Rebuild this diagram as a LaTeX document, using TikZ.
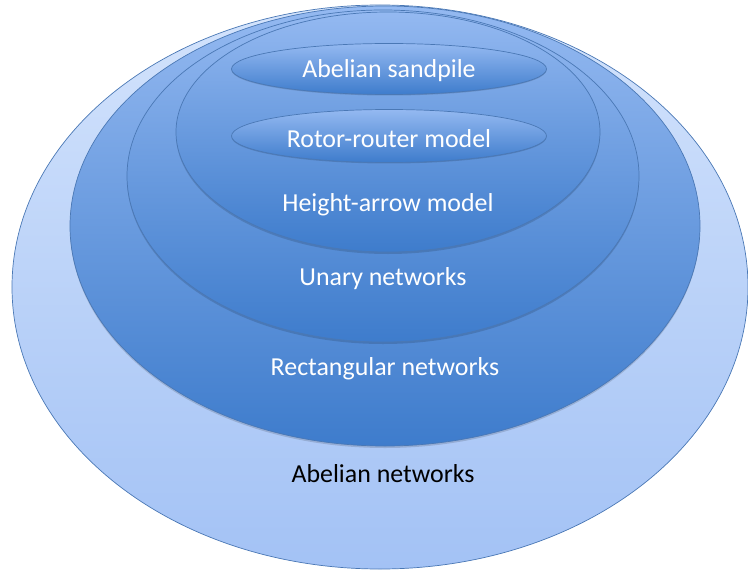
\documentclass[tikz,border=0pt]{standalone}
\usepackage{fontspec}
\setmainfont{Carlito}
\usetikzlibrary{shapes.geometric}
\definecolor{outtop}{HTML}{D3E3FC}
\definecolor{outbot}{HTML}{A3C2F5}
\definecolor{intop}{HTML}{94B9F1}
\definecolor{inbot}{HTML}{3E7CCC}
\definecolor{edge}{HTML}{4A78B5}
\tikzset{
  ring/.style={ellipse, inner sep=0pt, draw=edge, line width=0.7bp},
  outerring/.style={ring, top color=outtop, bottom color=outbot},
  innerring/.style={ring, top color=intop, bottom color=inbot},
  shade/.style={ellipse, inner sep=0pt, fill=black, fill opacity=0.14, draw=none},
  lbl/.style={font=\fontsize{26}{30}\selectfont, text=white, inner sep=0pt},
  lblblack/.style={lbl, text=black}
}
\begin{document}
\begin{tikzpicture}[x=1bp, y=-1bp]
\useasboundingbox (0,0) rectangle (748,572);
\node[outerring, minimum width=736bp, minimum height=564bp] (abnet) at (380,287) {};
\node[shade, minimum width=630bp, minimum height=440bp] (rectsh) at (385,228) {};
\node[innerring, minimum width=630bp, minimum height=440bp] (rect) at (385,226) {};
\node[shade, minimum width=512bp, minimum height=332bp] (unsh) at (383,178) {};
\node[innerring, minimum width=512bp, minimum height=332bp] (unary) at (383,176) {};
\node[shade, minimum width=424bp, minimum height=240bp] (hash) at (388,134) {};
\node[innerring, minimum width=424bp, minimum height=240bp] (height) at (388,132) {};
\node[shade, minimum width=315bp, minimum height=51bp] (sash) at (389,70) {};
\node[innerring, minimum width=315bp, minimum height=51bp] (sand) at (389,69) {};
\node[shade, minimum width=315bp, minimum height=53bp] (rosh) at (389,137) {};
\node[innerring, minimum width=315bp, minimum height=53bp] (rotor) at (389,136) {};
\node[lbl] (tsand) at (389,71) {Abelian sandpile};
\node[lbl] (trotor) at (389,139) {Rotor-router model};
\node[lbl] (theight) at (388,205) {Height-arrow model};
\node[lbl] (tunary) at (383,279) {Unary networks};
\node[lbl] (trect) at (385,369) {Rectangular networks};
\node[lblblack] (tabnet) at (383,474) {Abelian networks};
\end{tikzpicture}
\end{document}
